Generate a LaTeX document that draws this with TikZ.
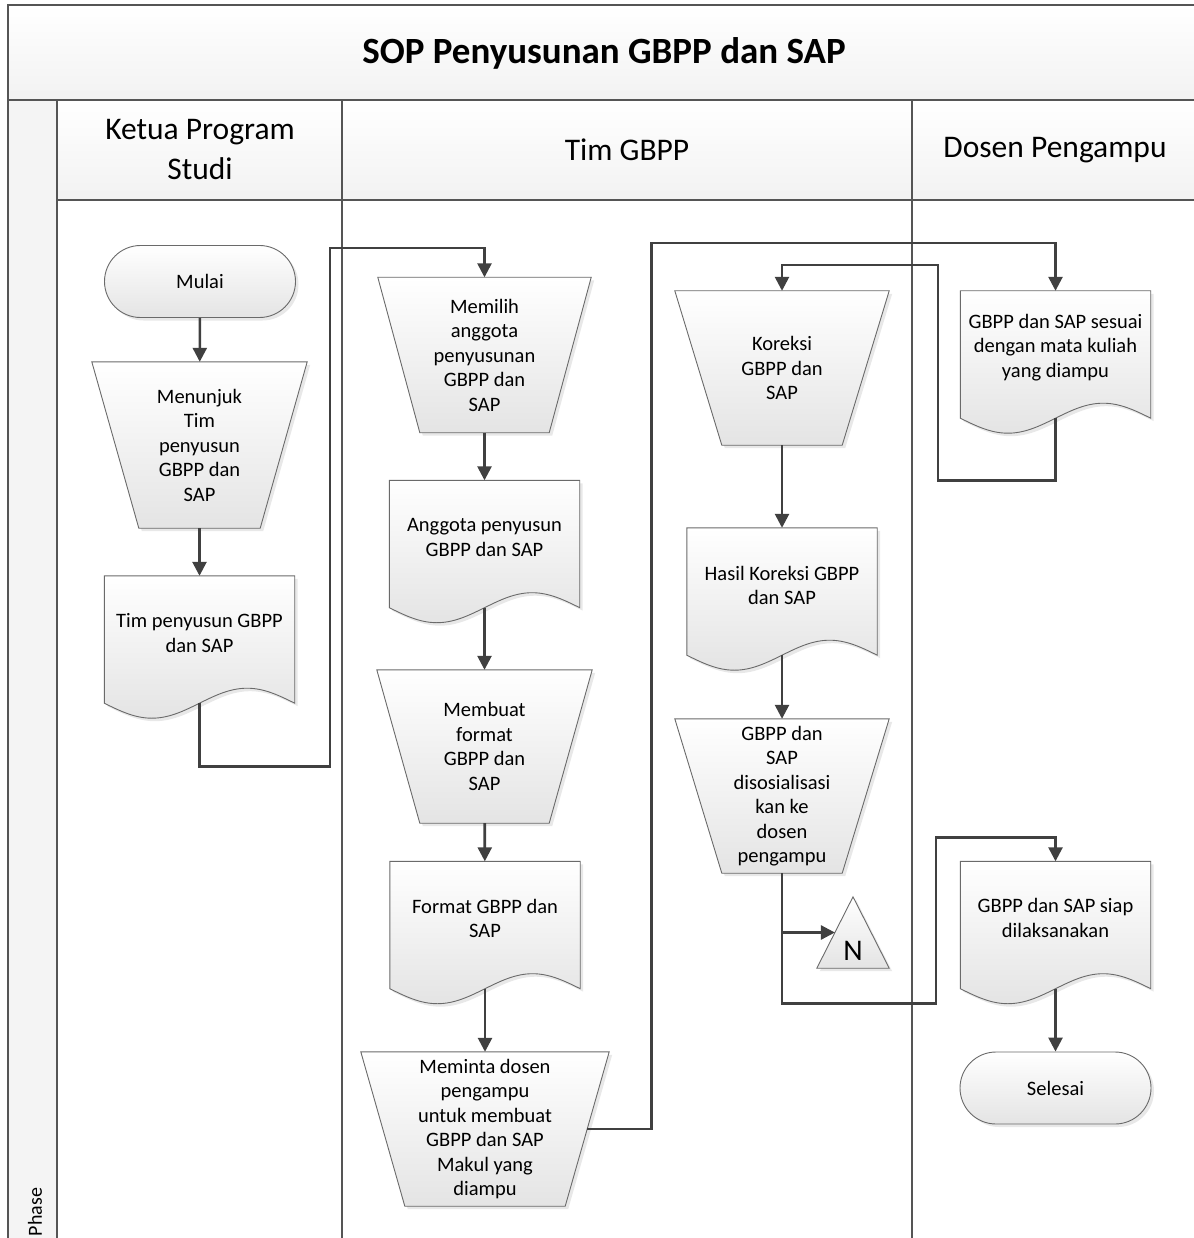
\documentclass[tikz,border=0pt]{standalone}
\usepackage{fontspec}
\setmainfont{Carlito}
\usepackage{tikz}
\usetikzlibrary{shapes.misc,calc,arrows.meta,shadows,backgrounds}

\definecolor{framegray}{HTML}{555555}
\definecolor{shapegray}{HTML}{6A6A6A}
\definecolor{flowgray}{HTML}{404040}
\definecolor{fillgray}{HTML}{E4E4E4}

\newcommand{\bodyfont}{\fontsize{20.5}{24.5}\selectfont}
\newcommand{\headfont}{\fontsize{31.5}{40}\selectfont}

\tikzset{
  laneline/.style={draw=framegray, line width=2pt},
  shapeline/.style={draw=shapegray, line width=0.9pt, top color=white, bottom color=fillgray,
    drop shadow={opacity=0.18, shadow xshift=3pt, shadow yshift=-3pt}},
  flow/.style={draw=flowgray, line width=2.6pt, -{Triangle[length=14pt,width=14pt]}},
  term/.style={rounded rectangle, minimum width=191pt, minimum height=72pt, inner sep=0pt,
    align=center, font=\bodyfont, shapeline},
  manual/.style={rectangle, minimum width=#1, minimum height=155pt, inner sep=0pt,
    align=center, font=\bodyfont},
  docbox/.style={rectangle, minimum width=190pt, minimum height=127pt, inner sep=0pt},
  doctext/.style={align=center, font=\bodyfont},
  header/.style={align=center, font=\headfont}
}

\newcommand{\manualshape}[2]{\draw[shapeline] (#1.north west) -- (#1.north east)
  -- ([xshift=-#2]#1.south east) -- ([xshift=#2]#1.south west) -- cycle;}
\newcommand{\docshape}[1]{\draw[shapeline] (#1.south west) -- (#1.north west) -- (#1.north east)
  -- (#1.south east) sin ($(#1.south east)!0.25!(#1.south west)+(0,-15)$)
  cos ($(#1.south east)!0.5!(#1.south west)$)
  sin ($(#1.south east)!0.75!(#1.south west)+(0,15)$) cos (#1.south west) -- cycle;}

\begin{document}
\begin{tikzpicture}[x=1pt,y=-1pt]
\useasboundingbox (0,0) rectangle (1193,1238);

% swimlanes
\fill[top color=white, bottom color=gray!10] (8,5) rectangle (1203,100);
\fill[top color=white, bottom color=gray!10] (57,100) rectangle (1203,200);
\fill[gray!9] (8,100) rectangle (57,1250);
\draw[laneline] (8,5) rectangle (1203,1250);
\draw[laneline] (8,100) -- (1203,100);
\draw[laneline] (57,200) -- (1203,200);
\draw[laneline] (57,100) -- (57,1250);
\draw[laneline] (342,100) -- (342,1250);
\draw[laneline] (912,100) -- (912,1250);

\node[font=\fontsize{37}{40}\selectfont\bfseries] (title) at (604,53) {SOP Penyusunan GBPP dan SAP};
\node[header] (kps) at (200,150) {Ketua Program\\Studi};
\node[header] (tim) at (627,150) {Tim GBPP};
\node[header] (dosen) at (1055,150) {Dosen Pengampu};
\node[rotate=90, font=\fontsize{20}{24}\selectfont] (phase) at (35,1212) {Phase};

% Ketua Program Studi
\node[term] (mulai) at (200,281.5) {Mulai};
\node[manual=215pt, minimum height=166pt] (menunjuk) at (199.5,445) {Menunjuk\\Tim\\penyusun\\GBPP dan\\SAP};
\node[docbox] (tps) at (199.5,639.5) {};
\node[doctext] (tpst) at (199.5,633) {Tim penyusun GBPP\\dan SAP};

% Tim GBPP
\node[manual=213pt] (memilih) at (484.5,355) {Memilih\\anggota\\penyusunan\\GBPP dan\\SAP};
\node[docbox] (anggota) at (484.5,544) {};
\node[doctext] (anggotat) at (484.5,537.5) {Anggota penyusun\\GBPP dan SAP};
\node[manual=215pt, minimum height=153pt] (membuat) at (484.5,746.5) {Membuat\\format\\GBPP dan\\SAP};
\node[docbox] (format) at (485,925) {};
\node[doctext] (formatt) at (485,918.5) {Format GBPP dan\\SAP};
\node[manual=248pt, minimum height=154pt] (meminta) at (485,1129) {Meminta dosen\\pengampu\\untuk membuat\\GBPP dan SAP\\Makul yang\\diampu};

\node[manual=214pt, minimum height=154pt] (koreksi) at (782,368) {Koreksi\\GBPP dan\\SAP};
\node[docbox] (hasil) at (782,591.5) {};
\node[doctext] (hasilt) at (782,585.5) {Hasil Koreksi GBPP\\dan SAP};
\node[manual=214pt, minimum height=154pt] (disos) at (782,796) {GBPP dan\\SAP\\disosialisasi\\kan ke\\dosen\\pengampu};
\node[rectangle, minimum width=72pt, minimum height=71pt, inner sep=0pt] (ntri) at (853,932.5) {};
\node[font=\fontsize{30}{34}\selectfont] (nlbl) at (853,951) {N};

% Dosen Pengampu
\node[docbox] (sesuai) at (1055.5,354.5) {};
\node[doctext] (sesuait) at (1055.5,347.5) {GBPP dan SAP sesuai\\dengan mata kuliah\\yang diampu};
\node[docbox] (siap) at (1055.5,925) {};
\node[doctext] (siapt) at (1055.5,918) {GBPP dan SAP siap\\dilaksanakan};
\node[term] (selesai) at (1055.5,1088) {Selesai};

\begin{scope}[on background layer]
\manualshape{menunjuk}{47pt}
\manualshape{memilih}{42pt}
\manualshape{membuat}{43pt}
\manualshape{meminta}{44pt}
\manualshape{koreksi}{47pt}
\manualshape{disos}{47pt}
\docshape{tps}
\docshape{anggota}
\docshape{format}
\docshape{hasil}
\docshape{sesuai}
\docshape{siap}
\draw[shapeline] (ntri.north) -- (ntri.south east) -- (ntri.south west) -- cycle;
\end{scope}

\draw[flow] (mulai) -- (menunjuk);
\draw[flow] (menunjuk) -- (tps);
\draw[flow] (tps.south) -- ++(0,63) -| ++(130.5,-518) -| (memilih.north);
\draw[flow] (memilih) -- (anggota);
\draw[flow] (anggota.south) -- (membuat.north);
\draw[flow] (membuat) -- (format);
\draw[flow] (format.south) -- (meminta.north);
\draw[flow] ([xshift=-22pt]meminta.east) -| ++(64,-886) -| (sesuai.north);
\draw[flow] (sesuai.south) -- ++(0,62) -| ++(-117.5,-215) -| (koreksi.north);
\draw[flow] (koreksi) -- (hasil);
\draw[flow] (hasil.south) -- (disos.north);
\draw[flow] (disos.south) -- ++(0,130) -| ++(154,-166) -| (siap.north);
\draw[flow] (disos.south |- ntri.center) -- ($(ntri.north)!0.5!(ntri.south west)$);
\draw[flow] (siap.south) -- (selesai.north);

\end{tikzpicture}
\end{document}
